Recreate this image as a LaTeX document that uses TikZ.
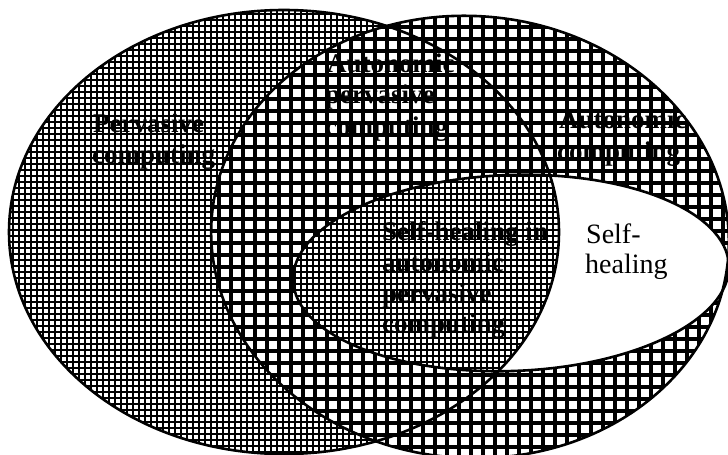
\documentclass[tikz,border=0pt]{standalone}
\usepackage{fontspec}
\setmainfont{Liberation Serif}
\newcommand\finepat{%
  \fill[white] (0,0) rectangle (728,455);
  \foreach \i in {0,...,121} {\draw[line width=2.4pt] (\i*6+1,0) -- (\i*6+1,455);}
  \foreach \j in {0,...,76} {\draw[line width=1.3pt] (0,\j*6+2) -- (728,\j*6+2);}
}
\newcommand\coarsepat{%
  \fill[white] (0,0) rectangle (728,455);
  \foreach \i in {0,...,61} {\draw[line width=3.1pt] (\i*12+3,0) -- (\i*12+3,455);}
  \foreach \j in {0,...,38} {\draw[line width=3.1pt] (0,\j*12+3) -- (728,\j*12+3);}
}
\begin{document}
\begin{tikzpicture}[x=1pt,y=-1pt,
  lab/.style={anchor=base west, inner sep=0pt, font=\bfseries\fontsize{27}{31}\selectfont},
  plainlab/.style={anchor=base west, inner sep=0pt, font=\fontsize{28}{31}\selectfont},
  outline/.style={line width=2.6pt}]
\useasboundingbox (0,0) rectangle (728,455);
\path[save path=\pL] (284,232) ellipse [x radius=275, y radius=222];
\path[save path=\pR, shift={(470,237)}, rotate=-4] (0,0) ellipse [x radius=259, y radius=221];
\path[save path=\pS, shift={(511,273)}, rotate=2] (0,0) ellipse [x radius=218, y radius=98];
% left ellipse: fine pattern
\begin{scope}
  \clip[use path=\pL];
  \finepat
\end{scope}
% right ellipse: coarse grid
\begin{scope}
  \clip[use path=\pR];
  \coarsepat
\end{scope}
% self-healing: white
\fill[white, use path=\pS];
% self-healing within pervasive: fine
\begin{scope}
  \clip[use path=\pS];
  \clip[use path=\pL];
  \finepat
\end{scope}
% outlines
\draw[outline, use path=\pL];
\draw[outline, use path=\pR];
\draw[outline, use path=\pS];
% labels
\node[lab] (p1) at (93,132) {Pervasive};
\node[lab] (p2) at (92,163) {computing};
\node[lab] (ap1) at (327,72) {Autonomic};
\node[lab] (ap2) at (325,103) {pervasive};
\node[lab] (ap3) at (325,135) {computing};
\node[lab] (a1) at (559,128) {Autonomic};
\node[lab] (a2) at (557,160) {computing};
\node[lab] (s1) at (382,240) {Self-healing in};
\node[lab] (s2) at (382,271) {autonomic};
\node[lab] (s3) at (382,302) {pervasive};
\node[lab] (s4) at (382,332) {computing};
\node[plainlab] (h1) at (586,243) {Self-};
\node[plainlab] (h2) at (585,273) {healing};
\end{tikzpicture}
\end{document}
